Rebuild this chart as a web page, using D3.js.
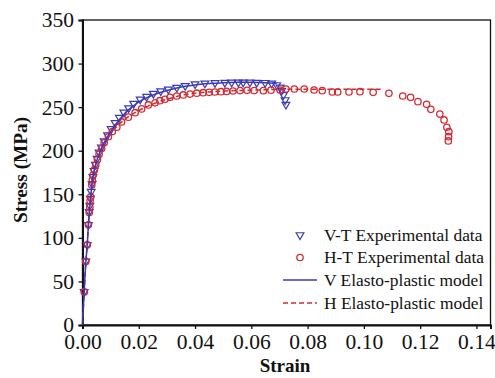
<!DOCTYPE html>
<html>
<head>
<meta charset="utf-8">
<script src="https://cdn.jsdelivr.net/npm/d3@7"></script>
<style>
  html, body { margin: 0; padding: 0; background: #ffffff; }
  svg { display: block; }
</style>
</head>
<body>
<svg id="chart" width="495" height="378"></svg>
<script>
// ---- data ----
const vtStrain = [0.0006,0.0012,0.0017,0.0021,0.0024,0.0026,0.0028,0.0031,0.0034,0.0037,0.0041,0.0046,0.0052,0.0059,0.0067,0.0077,0.0089,0.0102,0.0116,0.0131,0.0147,0.0164,0.0182,0.0205,0.0228,0.0252,0.0278,0.0305,0.0335,0.0365,0.0400,0.0435,0.0471,0.0506,0.0530,0.0554,0.0571,0.0595,0.0619,0.0649,0.0672,0.0690,0.0702,0.0708,0.0714,0.0720,0.0723];
const vtStress = [38,73,92,115,130,137,145,153,162,170,177,184,191,198,204,211,218,225,232,238,244,249,254,259,262,265.5,268.5,270.5,272.5,274.5,276.5,277.4,277.8,278.1,278.5,278.5,278.5,278.5,278.1,278,277.4,275.4,272.8,268.9,264,258.2,253];

const htStrain = [0.00064,0.0012,0.0017,0.0021,0.0024,0.0026,0.0027,0.0029,0.0033,0.0035,0.0038,0.0042,0.0047,0.0053,0.0059,0.0068,0.0077,0.0092,0.0106,0.0122,0.0139,0.0163,0.0187,0.0210,0.0234,0.0258,0.0275,0.0293,0.0311,0.0335,0.0358,0.0382,0.0406,0.0429,0.0450,0.0470,0.0492,0.0512,0.0535,0.0560,0.0585,0.0610,0.0643,0.0670,0.0702,0.0723,0.0753,0.0788,0.0823,0.0852,0.0888,0.0907,0.0947,0.0986,0.1033,0.1089,0.1138,0.1166,0.1192,0.1223,0.1238,0.1270,0.1285,0.1295,0.1302,0.1301,0.1300];
const htStress = [38,73,92,115,129,135,142.6,147,160.7,166.4,172,178,183.6,190,196,202.5,209,216,222,227,233,238.5,243.6,248,252.5,255,257.4,259,261.3,262.8,264,265,266,266.6,267,267.4,267.7,268,268.5,269,269.3,269,268.9,269.5,269.7,270.8,270.8,270.8,269.7,268.9,267.4,267.4,267.4,267.7,267,265.9,262.8,261.3,256.3,253.3,247.5,242.1,235.3,226.9,221.8,216.1,211.2];

const vModelStrain = [0,0.0006,0.0012,0.0017,0.0021,0.0025,0.003,0.0035,0.004,0.005,0.006,0.007,0.008,0.010,0.012,0.014,0.016,0.018,0.020,0.025,0.030,0.035,0.040,0.045,0.050,0.055,0.060,0.065,0.069];
const vModelStress = [0,38,73,93,115,132,150,165,175,188,197,205,211,222,231,239,246,251,256,264,269,273,275.5,277,278,278.5,278.5,278,277];

const hModelStrain = [0,0.0006,0.0012,0.0017,0.0021,0.0025,0.003,0.0035,0.004,0.005,0.006,0.007,0.008,0.010,0.012,0.015,0.020,0.025,0.030,0.035,0.040,0.045,0.050,0.060,0.070,0.080,0.090,0.100,0.107];
const hModelStress = [0,38,73,93,115,132,150,165,175,187,196,204,210,220,227,236,246,253.5,259,263.5,266,267.5,268.5,269.5,270.3,270.5,270.5,270.5,270.5];

const xTicks = [0,0.02,0.04,0.06,0.08,0.10,0.12,0.14];
const yTicks = [0,50,100,150,200,250,300,350];

const legendLabels = ["V-T Experimental data","H-T Experimental data","V Elasto-plastic model","H Elasto-plastic model"];

// ---- drawing ----
const FONT = "Liberation Serif, Times New Roman, Times, DejaVu Serif, serif";
const BLUE = "#3a3ab8", RED = "#d12c34";
const svg = d3.select("#chart");
const m = {left: 82.5, right: 490.5, top: 20, bottom: 325};

const x = d3.scaleLinear().domain([0, 0.145]).range([m.left, m.right]);
const y = d3.scaleLinear().domain([0, 350]).range([m.bottom, m.top]);

// frame
svg.append("rect")
  .attr("x", m.left).attr("y", m.top)
  .attr("width", m.right - m.left).attr("height", m.bottom - m.top)
  .attr("fill", "none").attr("stroke", "#111").attr("stroke-width", 1.3);

// axes
const xAxis = svg.append("g").attr("transform", `translate(0,${m.bottom})`)
  .call(d3.axisBottom(x).tickValues(xTicks).tickFormat(d3.format(".2f")).tickSize(4).tickPadding(4));
const yAxis = svg.append("g").attr("transform", `translate(${m.left},0)`)
  .call(d3.axisLeft(y).tickValues(yTicks).tickFormat(d3.format("d")).tickSize(4).tickPadding(4.5));
[xAxis, yAxis].forEach(g => {
  g.attr("font-family", FONT).attr("font-size", 21.5);
  g.select(".domain").attr("stroke", "#111").attr("stroke-width", 2);
  g.selectAll(".tick line").attr("stroke", "#111").attr("stroke-width", 1.3);
  g.selectAll(".tick text").attr("fill", "#111");
});
xAxis.selectAll(".tick text").attr("dy", "0.74em");

// axis titles
svg.append("text").attr("x", 285).attr("y", 372).attr("text-anchor", "middle")
  .attr("font-family", FONT).attr("font-size", 19).attr("font-weight", "bold").attr("fill", "#111").text("Strain");
svg.append("text").attr("transform", "translate(27,170) rotate(-90)").attr("text-anchor", "middle")
  .attr("font-family", FONT).attr("font-size", 19.3).attr("font-weight", "bold").attr("fill", "#111").text("Stress (MPa)");

// markers
const tri = d3.symbol().type(d3.symbolTriangle).size(26);
const vt = d3.zip(vtStrain, vtStress);
const ht = d3.zip(htStrain, htStress);

svg.append("g").selectAll("path").data(vt).join("path")
  .attr("d", tri)
  .attr("transform", d => `translate(${x(d[0])},${y(d[1])}) rotate(180)`)
  .attr("fill", "none").attr("stroke", BLUE).attr("stroke-width", 1.2);

svg.append("g").selectAll("circle").data(ht).join("circle")
  .attr("cx", d => x(d[0])).attr("cy", d => y(d[1])).attr("r", 3.2)
  .attr("fill", "none").attr("stroke", RED).attr("stroke-width", 1.3);

// model lines
const line = d3.line().x(d => x(d[0])).y(d => y(d[1])).curve(d3.curveCatmullRom);
svg.append("path").datum(d3.zip(hModelStrain, hModelStress))
  .attr("d", line)
  .attr("fill", "none").attr("stroke", RED).attr("stroke-width", 1.5).attr("stroke-dasharray", "5,3");
svg.append("path").datum(d3.zip(vModelStrain, vModelStress))
  .attr("d", line)
  .attr("fill", "none").attr("stroke", BLUE).attr("stroke-width", 1.5);

// legend
const lg = svg.append("g");
const rowY = [235, 257.5, 280, 303];
lg.append("path").attr("d", tri).attr("transform", `translate(300,${rowY[0]}) rotate(180)`)
  .attr("fill", "none").attr("stroke", BLUE).attr("stroke-width", 1.2);
lg.append("circle").attr("cx", 300).attr("cy", rowY[1]).attr("r", 3.2)
  .attr("fill", "none").attr("stroke", RED).attr("stroke-width", 1.3);
lg.append("line").attr("x1", 283).attr("x2", 317).attr("y1", rowY[2]).attr("y2", rowY[2])
  .attr("stroke", BLUE).attr("stroke-width", 1.5);
lg.append("line").attr("x1", 283).attr("x2", 317).attr("y1", rowY[3]).attr("y2", rowY[3])
  .attr("stroke", RED).attr("stroke-width", 1.5).attr("stroke-dasharray", "5,3");
lg.selectAll("text.lab").data(legendLabels).join("text").attr("class", "lab")
  .attr("x", 324).attr("y", (d, i) => rowY[i]).attr("dy", "0.33em")
  .attr("font-family", FONT).attr("font-size", 17.4).attr("fill", "#111").text(d => d);
</script>
</body>
</html>
